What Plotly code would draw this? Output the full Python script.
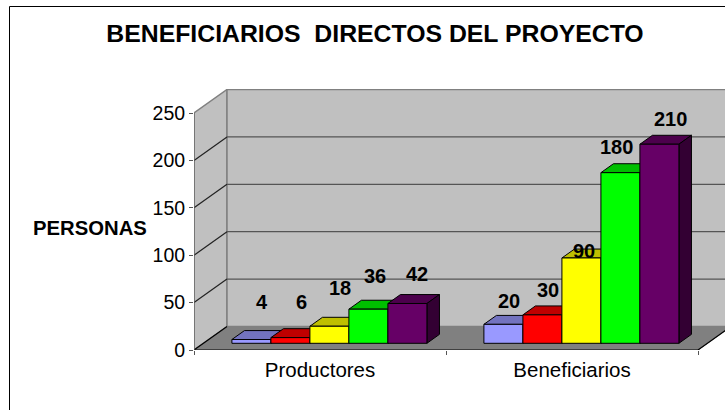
import plotly.graph_objects as go

# datos
categorias = ["Productores", "Beneficiarios"]
productores = [4, 6, 18, 36, 42]
beneficiarios = [20, 30, 90, 180, 210]
marcas_y = [0, 50, 100, 150, 200, 250]

# colores por serie: frente, tapa, costado
col_frente = ["#9999FF", "#FF0000", "#FFFF00", "#00FF00", "#660066"]
col_tapa = ["#7373BF", "#BF0000", "#BFBF00", "#00BF00", "#4C004C"]
col_lado = ["#4D4D80", "#800000", "#808000", "#008000", "#330033"]

# desplazamiento manual de las etiquetas en pixeles (respecto al centro de la tapa)
etq_dx = [[4, 5, 4, 0, 3], [-1, -1, -4, -10, 5]]
etq_dy = [[33, 31, 34, 29, 25], [19, 20, 3, 21, 21]]

# escala de la falsa perspectiva, en unidades de los ejes
PX_X = 252.0
PX_Y = 0.948
FONDO_X = 33 / PX_X
FONDO_Y = 23.5 / PX_Y
PROF_INI = 0.285
PROF_FIN = 0.665
ANCHO = 39 / PX_X


def proy(x, y, prof):
    # punto 3D a coordenadas del plano frontal
    return x + prof * FONDO_X, y + prof * FONDO_Y


def poligono(puntos, relleno, linea, ancho=1):
    camino = "M " + " L ".join(f"{x},{y}" for x, y in puntos) + " Z"
    return dict(type="path", path=camino, xref="x", yref="y", layer="below",
                fillcolor=relleno, line=dict(color=linea, width=ancho))


def segmento(p0, p1, color="#555555", ancho=1.2):
    return dict(type="line", x0=p0[0], y0=p0[1], x1=p1[0], y1=p1[1], xref="x", yref="y",
                layer="below", line=dict(color=color, width=ancho))


formas = []
n_cat = len(categorias)
y_max = marcas_y[-1]

# paredes y piso
formas.append(poligono([proy(0, 0, 0), proy(0, y_max, 0), proy(0, y_max, 1), proy(0, 0, 1)], "#C0C0C0", "#808080", 1.5))
formas.append(poligono([proy(0, 0, 1), proy(0, y_max, 1), proy(n_cat, y_max, 1), proy(n_cat, 0, 1)], "#C0C0C0", "#808080", 1.5))
formas.append(poligono([proy(0, 0, 0), proy(n_cat, 0, 0), proy(n_cat, 0, 1), proy(0, 0, 1)], "#808080", "#808080", 1))
formas.append(segmento(proy(0, 0, 0), proy(0, 0, 1), "#000000"))
formas.append(segmento(proy(n_cat, 0, 0), proy(n_cat, 0, 1), "#000000"))

# lineas de division
for v in marcas_y[1:-1]:
    formas.append(segmento(proy(0, v, 0), proy(0, v, 1), "#222222"))
    formas.append(segmento(proy(0, v, 1), proy(n_cat, v, 1)))

fig = go.Figure()
anotaciones = []
series = [productores, beneficiarios]

for c, valores in enumerate(series):
    centros = []
    for i, v in enumerate(valores):
        izq = c + 0.5 + (i - 2.5) * ANCHO
        der = izq + ANCHO
        formas.append(poligono([proy(izq, v, PROF_INI), proy(der, v, PROF_INI), proy(der, v, PROF_FIN), proy(izq, v, PROF_FIN)], col_tapa[i], "#000000"))
        formas.append(poligono([proy(der, 0, PROF_INI), proy(der, v, PROF_INI), proy(der, v, PROF_FIN), proy(der, 0, PROF_FIN)], col_lado[i], "#000000"))
        centros.append(proy(izq + ANCHO / 2, 0, PROF_INI)[0])
        tx, ty = proy(izq + ANCHO / 2, v, (PROF_INI + PROF_FIN) / 2)
        anotaciones.append(dict(x=tx, y=ty, text=f"<b>{v}</b>", showarrow=False,
                                xshift=etq_dx[c][i], yshift=etq_dy[c][i],
                                font=dict(family="Liberation Sans", size=20, color="#000000")))
    fig.add_trace(go.Bar(
        x=centros,
        y=valores,
        base=proy(0, 0, PROF_INI)[1],
        width=ANCHO,
        marker=dict(color=col_frente, line=dict(color="#000000", width=1)),
        showlegend=False,
        hoverinfo="skip",
    ))

# ejes de adelante, encima de todo y sin recortar
fig.add_trace(go.Scatter(x=[0, n_cat], y=[0, 0], mode="lines", line=dict(color="#000000", width=1.2),
                         cliponaxis=False, showlegend=False, hoverinfo="skip"))
fig.add_trace(go.Scatter(x=[0, 0], y=[0, y_max], mode="lines", line=dict(color="#666666", width=1.2),
                         cliponaxis=False, showlegend=False, hoverinfo="skip"))

# marco del grafico
M_IZQ, M_DER, M_SUP, M_INF = 194, 0, 89, 60
ancho_plot = 725 - M_IZQ - M_DER
alto_plot = 410 - M_SUP - M_INF
formas.append(dict(type="path", xref="paper", yref="paper", layer="above",
                   path=f"M {(9.5 - M_IZQ) / ancho_plot},{(410 - M_INF - 410) / alto_plot} "
                        f"L {(9.5 - M_IZQ) / ancho_plot},{(410 - M_INF - 6.5) / alto_plot} "
                        f"L {(725 - M_IZQ) / ancho_plot},{(410 - M_INF - 6.5) / alto_plot}",
                   line=dict(color="#000000", width=1)))

anotaciones.append(dict(xref="paper", yref="y", x=0, y=125, xanchor="right", xshift=-45, yshift=4,
                        text="<b>PERSONAS</b>", showarrow=False,
                        font=dict(family="Liberation Sans", size=20.3, color="#000000")))

fig.update_layout(
    width=725,
    height=410,
    margin=dict(l=M_IZQ, r=M_DER, t=M_SUP, b=M_INF, pad=0),
    paper_bgcolor="#FFFFFF",
    plot_bgcolor="#FFFFFF",
    barmode="overlay",
    title=dict(text="<b>BENEFICIARIOS\u00a0 DIRECTOS DEL PROYECTO</b>", x=375 / 725, xanchor="center",
               y=1 - 33 / 410, yanchor="middle", font=dict(family="Liberation Sans", size=24.8, color="#000000")),
    font=dict(family="Liberation Sans", color="#000000"),
    shapes=formas,
    annotations=anotaciones,
    xaxis=dict(
        range=[0, ancho_plot / PX_X],
        tickmode="array",
        tickvals=[c + 0.5 for c in range(n_cat)],
        ticktext=categorias,
        ticks="",
        ticklabelstandoff=5,
        showgrid=False,
        zeroline=False,
        showline=False,
        tickfont=dict(size=20.5),
        minor=dict(tickmode="array", tickvals=list(range(n_cat + 1)), ticks="outside", ticklen=4,
                   tickcolor="#555555", showgrid=False),
    ),
    yaxis=dict(
        range=[0, alto_plot / PX_Y],
        tickmode="array",
        tickvals=marcas_y,
        ticks="outside",
        ticklen=4,
        tickcolor="#555555",
        showgrid=False,
        zeroline=False,
        showline=False,
        tickfont=dict(size=19.5),
    ),
)

# sin margen de pagina, para que el grafico calce con la ventana
fig.write_html("out.html", config=dict(displayModeBar=False),
               post_script="document.body.style.margin='0';document.body.style.overflow='hidden';")
